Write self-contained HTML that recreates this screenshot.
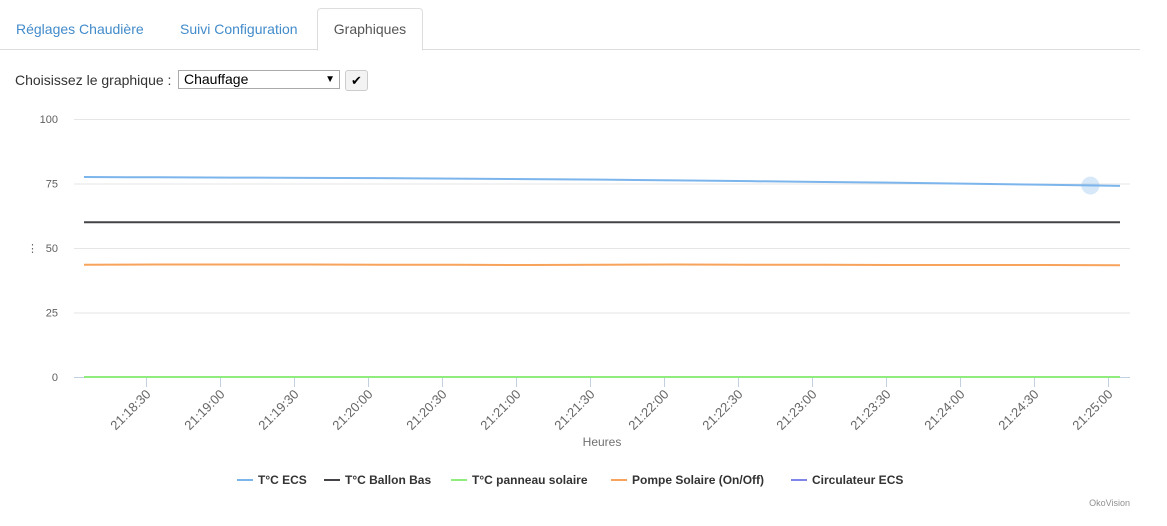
<!DOCTYPE html>
<html><head><meta charset="utf-8"><style>
body{margin:0;width:1167px;height:526px;background:#fff;font-family:"Liberation Sans",sans-serif;overflow:hidden;position:relative}
.tabs{position:absolute;left:0;top:0;width:1140px;height:49px;border-bottom:1px solid #ddd}
.tab{position:absolute;top:21px;font-size:14px;color:#428bca}
.tab.active{top:8px;left:317px;width:104px;height:41px;border:1px solid #ddd;border-bottom:1px solid #fff;border-radius:4px 4px 0 0;background:#fff;color:#555;text-align:center;line-height:41px}
.lbl{position:absolute;left:15px;top:72px;font-size:14px;color:#333}
.sel{position:absolute;left:178px;top:70px;width:162px;height:19px;border:1px solid #aaa;box-sizing:border-box;font-size:14px;color:#000;padding-left:5px;line-height:17px}
.btn{position:absolute;left:345px;top:70px;width:23px;height:21px;border:1px solid #ccc;border-radius:3px;background:#f3f3f3;box-sizing:border-box;font-size:13px;text-align:center;line-height:19px}
</style></head><body>
<div class="tabs">
<div class="tab" style="left:16px">Réglages Chaudière</div>
<div class="tab" style="left:180px">Suivi Configuration</div>
<div class="tab active">Graphiques</div>
</div>
<div class="lbl">Choisissez le graphique :</div>
<div class="sel">Chauffage<span style="position:absolute;right:4px;top:0;font-size:10px">▼</span></div>
<div class="btn">✔</div>
<svg id="chart" width="1167" height="526" style="position:absolute;left:0;top:0"></svg>
<script>
const tickLabels=["21:18:30","21:19:00","21:19:30","21:20:00","21:20:30","21:21:00","21:21:30","21:22:00","21:22:30","21:23:00","21:23:30","21:24:00","21:24:30","21:25:00"];
const yTicks=[0,25,50,75,100];
const times=[0,30,60,90,120,150,180,210,240,270,300,330,360,390,420];
const ecs=[77.5,77.4,77.3,77.2,77.1,76.9,76.7,76.5,76.2,75.9,75.6,75.3,74.9,74.5,74.1];
const ballonBas=[60,60,60,60,60,60,60,60,60,60,60,60,60,60,60];
const panneau=[0,0,0,0,0,0,0,0,0,0,0,0,0,0,0];
const pompe=[43.5,43.6,43.6,43.6,43.5,43.5,43.4,43.5,43.6,43.5,43.5,43.4,43.4,43.4,43.3];
const circ=[0,0,0,0,0,0,0,0,0,0,0,0,0,0,0];
const hoverTime=408, hoverValue=74.2;
const names=["T°C ECS","T°C Ballon Bas","T°C panneau solaire","Pompe Solaire (On/Off)","Circulateur ECS"];
const NS="http://www.w3.org/2000/svg",svg=document.getElementById('chart');
const x=t=>84+(t/30)*74;
const tickT=i=>25+30*i;
const y=v=>377-v*2.58;
function mk(tag,a,txt){const e=document.createElementNS(NS,tag);for(const k in a)e.setAttribute(k,a[k]);if(txt!=null)e.textContent=txt;svg.appendChild(e);return e;}
yTicks.forEach(v=>{
 const g=mk('line',{x1:74,x2:1130,y1:y(v)+.5,y2:y(v)+.5,stroke:v===0?'#c0d0e0':'#e6e6e6'});
 
 
 const t=mk('text',{x:58,y:y(v)+4,'text-anchor':'end','font-size':11,fill:'#606060'},v);
 
 
});
const dots=mk('text',{x:27,y:252,'font-size':11,fill:'#666'},'⋮');


tickLabels.forEach((l,i)=>{
 const xx=Math.round(x(tickT(i)))+.5;
 const tk=mk('line',{x1:xx,x2:xx,y1:377,y2:387,stroke:'#c0d0e0'});
 
 
 const t=mk('text',{x:xx+5,y:395,'text-anchor':'end','font-size':13,fill:'#666',transform:`rotate(-45 ${xx+5} 395)`},l);
 
 
});
const xt=mk('text',{x:602,y:446,'text-anchor':'middle','font-size':12,fill:'#707070'},'Heures');


const series=[[ecs,'#7cb5ec'],[ballonBas,'#434348'],[panneau,'#90ed7d'],[pompe,'#f7a35c'],[circ,'#8085e9']];
series.forEach(([d,c],si)=>{
 if(si===4)return;
 const p=mk('polyline',{points:d.map((v,i)=>x(times[i])+','+y(v)).join(' '),fill:'none',stroke:c,'stroke-width':2});
 
 
});
const hi=mk('circle',{cx:x(hoverTime),cy:y(hoverValue),r:9,fill:'#7cb5ec','fill-opacity':.3});


const lx=[237,324,451,611,791];
names.forEach((n,i)=>{
 const l=mk('line',{x1:lx[i],x2:lx[i]+16,y1:480,y2:480,stroke:series[i][1],'stroke-width':2});
 
 
 const t=mk('text',{x:lx[i]+21,y:484,'font-size':12,'font-weight':'bold',fill:'#333'},n);
 
 
});
const cr=mk('text',{x:1130,y:506,'text-anchor':'end','font-size':9,fill:'#909090'},'OkoVision');


</script>
</body></html>
